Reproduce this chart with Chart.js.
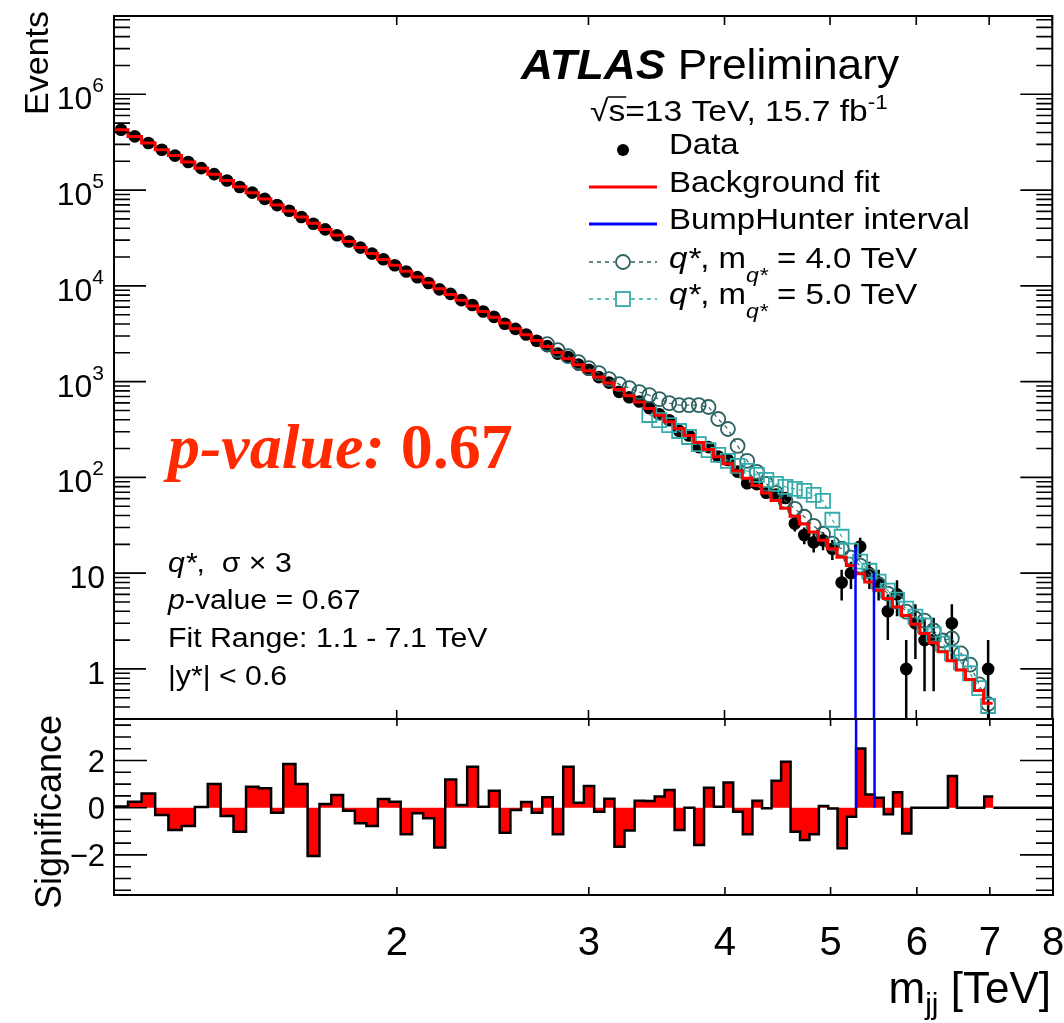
<!DOCTYPE html>
<html>
<head>
<meta charset="utf-8">
<script src="https://cdn.jsdelivr.net/npm/chart.js@4.4.1/dist/chart.umd.min.js"></script>
<style>
  html, body { margin: 0; background: #fff; }
  #wrap { position: relative; width: 1064px; height: 1023px; }
  #wrap canvas { position: absolute; left: 0; top: 0; }
</style>
</head>
<body>
<div id="wrap">
  <canvas id="mainPad" width="1064" height="1023"></canvas>
  <canvas id="sigPad" width="1064" height="1023"></canvas>
</div>
<script>
// dijet mass bin edges [TeV]
const binEdges = [
  1.100, 1.133, 1.166, 1.200, 1.234, 1.269, 1.305, 1.341, 1.378, 1.416, 1.454, 1.493, 1.533, 1.573,
  1.614, 1.656, 1.698, 1.741, 1.785, 1.830, 1.875, 1.921, 1.968, 2.016, 2.065, 2.114, 2.164, 2.215,
  2.267, 2.320, 2.374, 2.429, 2.485, 2.542, 2.600, 2.659, 2.719, 2.780, 2.842, 2.905, 2.969, 3.034,
  3.100, 3.167, 3.235, 3.305, 3.376, 3.448, 3.521, 3.596, 3.672, 3.749, 3.827, 3.907, 3.988, 4.070,
  4.154, 4.239, 4.326, 4.414, 4.504, 4.595, 4.688, 4.782, 4.878, 4.975, 5.074, 5.175, 5.277, 5.381,
  5.487, 5.595, 5.705, 5.817, 5.931, 6.047, 6.165, 6.285, 6.407, 6.531, 6.658, 6.787, 6.918, 7.052
];

// events per bin
const dataCounts = [
  426830, 363650, 310530, 264040, 228850, 196350, 169510, 146780, 125780, 107870,
  94000, 81010, 69730, 60890, 52430, 44560, 38890, 33760, 29060, 25080,
  21700, 18930, 16420, 14100, 12320, 10700, 9188, 8245, 7088, 6312,
  5388, 4746, 4020, 3551, 3108, 2676, 2347, 1959, 1809, 1508,
  1329, 1113, 977, 782, 687, 619, 529, 457, 395, 306,
  274, 207, 207, 165, 152, 115, 87, 85, 69, 66,
  61, 33, 25, 21, 22, 18, 8, 10, 19, 10,
  8, 4, 6, 1, 3, 2, 2, 0, 3, 0,
  0, 0, 1
];

const bkgFit = [
  426800, 363500, 310200, 264200, 229300, 196700, 169500, 146400, 125900, 108200,
  93730, 80780, 69780, 60430, 52200, 44990, 38860, 33660, 29080, 25180,
  21810, 18880, 16390, 14230, 12350, 10750, 9351, 8137, 7079, 6175,
  5385, 4697, 4088, 3557, 3095, 2687, 2326, 2010, 1736, 1500,
  1296, 1119, 964.7, 829.5, 713.3, 611.5, 523.2, 446.7, 380.4, 323.1,
  273.8, 231.5, 195.3, 164.7, 138.9, 116.9, 98.1, 82.1, 68.6, 57.2,
  47.5, 39.4, 32.6, 26.9, 22.0, 18.0, 14.7, 12.0, 9.86, 8.08,
  6.62, 5.43, 4.44, 3.61, 2.92, 2.35, 1.88, 1.51, 1.22, 0.976,
  0.777, 0.597, 0.437
];

// signal + background, null where not drawn
const qstar4 = [
  null, null, null, null, null, null, null, null, null, null,
  null, null, null, null, null, null, null, null, null, null,
  null, null, null, null, null, null, null, null, null, null,
  null, null, null, null, null, null, 2458, 2129, 1843, 1597,
  1382, 1226, 1062, 942, 856, 777, 723, 657, 597, 569,
  569, 569, 543, 407, 320, 213, 149, 114, 85.6, 69.0,
  56.9, 47.0, 38.8, 31.2, 25.8, 20.3, 18.0, 14.5, 12.0, 9.42,
  7.59, 6.11, 5.05, 3.97, 3.36, 3.20, 2.52, 1.98, 2.08, 1.45,
  1.11, 0.69, 0.43
];

const qstar5 = [
  null, null, null, null, null, null, null, null, null, null,
  null, null, null, null, null, null, null, null, null, null,
  null, null, null, null, null, null, null, null, null, null,
  null, null, null, null, null, null, null, null, null, null,
  null, null, null, null, null, null, 448, 397, 352, 305,
  264, 223, 193, 172, 149, 132, 117, 106, 94.2, 85.6,
  79.6, 75.9, 72.3, 65.7, 56.9, 36.1, 24.0, 17.2, 13.2, 10.6,
  8.16, 6.57, 5.30, 4.27, 3.52, 2.84, 2.29, 1.84, 1.45, 1.17,
  0.90, 0.63, 0.41
];

const significance = [
  0.05, 0.25, 0.6, -0.31, -0.95, -0.78, 0.03, 1.0, -0.35, -1.02,
  0.89, 0.82, -0.21, 1.85, 1.0, -2.05, 0.16, 0.54, -0.13, -0.66,
  -0.78, 0.37, 0.25, -1.13, -0.24, -0.45, -1.69, 1.2, 0.11, 1.74,
  0.04, 0.72, -1.06, -0.1, 0.24, -0.21, 0.44, -1.13, 1.74, 0.21,
  0.92, -0.17, 0.38, -1.65, -0.97, 0.3, 0.28, 0.47, 0.75, -0.95,
  0.0, -1.58, 0.85, 0.04, 1.07, -0.17, -1.12, 0.3, -0.02, 1.14,
  1.95, -1.02, -1.37, -1.12, 0.07, -0.03, -1.72, -0.38, 2.51, 0.56,
  0.42, -0.28, 0.65, -1.09, 0, 0, 0, 0, 1.34, 0,
  0, 0, 0.47
];

// BumpHunter interval: edges [TeV] and data height at each edge
const bumpEdges = [5.277, 5.487];
const bumpHeights = [19, 10];

const xRange = [1.1, 8];
const eventsRange = [0.3126, 6.573e6];
const sigRange = [-3.7, 3.76];
const xTickValues = [2, 3, 4, 5, 6, 7, 8];
const xTickLabels = ['2', '3', '4', '5', '6', '7', '8'];
const yDecades = [1, 10, 100, 1e3, 1e4, 1e5, 1e6];
const yDecadeExp = ['', '', '2', '3', '4', '5', '6'];
const sigTickValues = [2, 0, -2];
const sigTickLabels = ['2', '0', '\u22122'];

const RED = '#ff0000';
const BLUE = '#0000ff';
const SIG4 = '#2d6262';
const SIG5 = '#35aaaa';

const sans = (size, style = '') => `${style} ${size}px "Liberation Sans", Arial, Helvetica, sans-serif`.trim();
const serif = (size, style = '') => `${style} ${size}px "Liberation Serif", "Times New Roman", serif`.trim();

const centers = binEdges.slice(0, -1).map((lo, i) => (lo + binEdges[i + 1]) / 2);
const stepPoints = vals => vals.flatMap((v, i) => [{ x: binEdges[i], y: v }, { x: binEdges[i + 1], y: v }]);
const markerPoints = vals => vals.map((v, i) => ({ x: centers[i], y: v })).filter(p => p.y !== null && p.y > 0);

const errorBars = [];
dataCounts.forEach((n, i) => {
  if (n <= 0) return;
  const e = Math.sqrt(n);
  errorBars.push({ x: centers[i], y: n + e }, { x: centers[i], y: Math.max(n - e, 0.01) }, { x: centers[i], y: null });
});

const bumpTop = [];
const bumpBottom = [];
bumpEdges.forEach((m, i) => {
  bumpTop.push({ x: m, y: bumpHeights[i] }, { x: m, y: 0.01 }, { x: m, y: null });
  bumpBottom.push({ x: m, y: sigRange[1] }, { x: m, y: 0 }, { x: m, y: null });
});

// draws a row of text pieces; sx stretches the row horizontally
function richText(ctx, x, y, parts, align = 'left', sx = 1) {
  ctx.save();
  ctx.textBaseline = 'alphabetic';
  ctx.textAlign = 'left';
  const w = parts.map(p => { ctx.font = p.f; return ctx.measureText(p.t).width; });
  const total = w.reduce((a, b) => a + b, 0);
  ctx.translate(x, y);
  ctx.scale(sx, 1);
  let cx = align === 'right' ? -total : 0;
  parts.forEach((p, i) => {
    ctx.font = p.f;
    ctx.fillStyle = p.c || '#000';
    ctx.fillText(p.t, cx, p.dy || 0);
    cx += w[i];
  });
  ctx.restore();
  return total * sx;
}

function strokeSegs(ctx, segs, width, color = '#000', dash = []) {
  ctx.save();
  ctx.lineWidth = width;
  ctx.strokeStyle = color;
  ctx.setLineDash(dash);
  ctx.beginPath();
  segs.forEach(([x1, y1, x2, y2]) => { ctx.moveTo(x1, y1); ctx.lineTo(x2, y2); });
  ctx.stroke();
  ctx.restore();
}

const mainDecor = {
  id: 'mainDecor',
  afterDraw(chart) {
    const { ctx, chartArea: a, scales: { x, y } } = chart;
    const ticks = [];
    for (let e = -1; e <= 6; e++) {
      for (let k = 1; k <= 9; k++) {
        const v = k * Math.pow(10, e);
        if (v < y.min || v > y.max) continue;
        const py = y.getPixelForValue(v);
        const len = k === 1 ? 32 : 16;
        ticks.push([a.left, py, a.left + len, py], [a.right, py, a.right - len, py]);
      }
    }
    xTickValues.forEach(t => {
      const px = x.getPixelForValue(t);
      ticks.push([px, a.top, px, a.top + 9], [px, a.bottom, px, a.bottom - 9]);
    });
    strokeSegs(ctx, ticks, 1.6);
    ctx.save();
    ctx.lineWidth = 2;
    ctx.strokeStyle = '#000';
    ctx.strokeRect(a.left, a.top, a.right - a.left, a.bottom - a.top);
    ctx.restore();

    // y tick labels
    yDecades.forEach((v, i) => {
      const py = y.getPixelForValue(v);
      if (yDecadeExp[i]) {
        richText(ctx, 104, py + 15, [
          { t: '10', f: sans(32) },
          { t: yDecadeExp[i], f: sans(21), dy: -17 }
        ], 'right');
      } else {
        richText(ctx, 105, py + 15, [{ t: String(v), f: sans(32) }], 'right');
      }
    });

    // y title
    ctx.save();
    ctx.translate(48, 11);
    ctx.rotate(-Math.PI / 2);
    ctx.font = sans(34);
    ctx.textAlign = 'right';
    ctx.fillStyle = '#000';
    ctx.fillText('Events', 0, 0);
    ctx.restore();

    // ATLAS label
    richText(ctx, 521, 79, [
      { t: 'ATLAS', f: sans(43, 'italic bold') },
      { t: ' Preliminary', f: sans(43) }
    ], 'left', 1.03);
    ctx.save();
    ctx.font = sans(30);
    const wRoot = ctx.measureText('\u221A').width * 1.12;
    const wS = ctx.measureText('s').width * 1.12;
    ctx.restore();
    richText(ctx, 590, 121, [
      { t: '\u221As=13 TeV, 15.7 fb', f: sans(30) },
      { t: '-1', f: sans(20), dy: -12 }
    ], 'left', 1.12);
    strokeSegs(ctx, [[590 + wRoot - 1, 97, 590 + wRoot + wS + 1, 97]], 1.5);

    // legend
    ctx.save();
    ctx.fillStyle = '#000';
    ctx.beginPath();
    ctx.arc(623, 150, 6, 0, 2 * Math.PI);
    ctx.fill();
    ctx.restore();
    strokeSegs(ctx, [[589, 187, 657, 187]], 3, RED);
    strokeSegs(ctx, [[589, 224, 657, 224]], 3, BLUE);
    strokeSegs(ctx, [[589, 262, 615, 262], [631, 262, 657, 262]], 1.3, SIG4, [4, 4]);
    strokeSegs(ctx, [[589, 299, 615, 299], [631, 299, 657, 299]], 1.3, SIG5, [4, 4]);
    ctx.save();
    ctx.lineWidth = 1.8;
    ctx.strokeStyle = SIG4;
    ctx.beginPath();
    ctx.arc(623, 262, 7, 0, 2 * Math.PI);
    ctx.stroke();
    ctx.strokeStyle = SIG5;
    ctx.strokeRect(616, 292, 14, 14);
    ctx.restore();
    const lsx = 1.1;
    richText(ctx, 669, 154, [{ t: 'Data', f: sans(30) }], 'left', lsx);
    richText(ctx, 669, 192, [{ t: 'Background fit', f: sans(30) }], 'left', lsx);
    richText(ctx, 669, 229, [{ t: 'BumpHunter interval', f: sans(30) }], 'left', lsx);
    [['4.0', 268], ['5.0', 304]].forEach(([m, by]) => {
      richText(ctx, 669, by, [
        { t: 'q*', f: sans(30, 'italic') },
        { t: ', m', f: sans(30) },
        { t: 'q*', f: sans(21, 'italic'), dy: 14 },
        { t: ' = ' + m + ' TeV', f: sans(30) }
      ], 'left', lsx);
    });

    // big p-value
    richText(ctx, 168, 468, [
      { t: 'p-value:', f: serif(64, 'italic bold'), c: '#ff2a00' },
      { t: ' 0.67', f: serif(64, 'bold'), c: '#ff2a00' }
    ]);

    // analysis info
    const isx = 1.12;
    richText(ctx, 168, 572, [
      { t: 'q*', f: sans(27, 'italic') },
      { t: ',  \u03C3 \u00D7 3', f: sans(27) }
    ], 'left', isx);
    richText(ctx, 168, 609, [
      { t: 'p', f: sans(27, 'italic') },
      { t: '-value = 0.67', f: sans(27) }
    ], 'left', isx);
    richText(ctx, 168, 647, [{ t: 'Fit Range: 1.1 - 7.1 TeV', f: sans(27) }], 'left', isx);
    richText(ctx, 168, 685, [{ t: '|y*| < 0.6', f: sans(27) }], 'left', isx);
  }
};

const sigDecor = {
  id: 'sigDecor',
  afterDraw(chart) {
    const { ctx, chartArea: a, scales: { x, y } } = chart;
    const ticks = [];
    for (let v = -3.5; v <= 3.5; v += 0.5) {
      const py = y.getPixelForValue(v);
      const len = Math.abs(v % 2) < 1e-9 ? 33 : 17;
      ticks.push([a.left, py, a.left + len, py], [a.right, py, a.right - len, py]);
    }
    xTickValues.forEach(t => {
      const px = x.getPixelForValue(t);
      ticks.push([px, a.top, px, a.top + 7], [px, a.bottom, px, a.bottom - 8]);
    });
    strokeSegs(ctx, ticks, 1.6);
    ctx.save();
    ctx.lineWidth = 2;
    ctx.strokeStyle = '#000';
    ctx.strokeRect(a.left, a.top, a.right - a.left, a.bottom - a.top);
    ctx.restore();

    sigTickValues.forEach((v, i) => {
      const py = y.getPixelForValue(v);
      richText(ctx, 105, py + 11, [{ t: sigTickLabels[i], f: sans(31) }], 'right');
    });
    xTickValues.forEach((v, i) => {
      const px = x.getPixelForValue(v);
      ctx.save();
      ctx.font = sans(40);
      ctx.textAlign = 'center';
      ctx.fillStyle = '#000';
      ctx.fillText(xTickLabels[i], px, 955);
      ctx.restore();
    });
    richText(ctx, 1051, 1003, [
      { t: 'm', f: sans(44) },
      { t: 'jj', f: sans(30), dy: 11 },
      { t: ' [TeV]', f: sans(44) }
    ], 'right');

    ctx.save();
    ctx.translate(61, 715);
    ctx.rotate(-Math.PI / 2);
    ctx.font = sans(36);
    ctx.textAlign = 'right';
    ctx.fillStyle = '#000';
    ctx.fillText('Significance', 0, 0);
    ctx.restore();
  }
};

const baseOptions = {
  responsive: false,
  animation: false,
  devicePixelRatio: 1,
  events: [],
  plugins: { legend: { display: false }, tooltip: { enabled: false } }
};

new Chart(document.getElementById('mainPad'), {
  type: 'line',
  data: {
    datasets: [
      { data: bumpTop, borderColor: BLUE, borderWidth: 2.5, pointRadius: 0, order: 0 },
      { data: stepPoints(bkgFit), borderColor: RED, borderWidth: 3, pointRadius: 0, order: 1 },
      { data: markerPoints(qstar5), borderColor: SIG5, borderWidth: 1.2, borderDash: [4, 4],
        pointStyle: 'rect', pointRadius: 9.9, pointBorderWidth: 1.8,
        pointBackgroundColor: 'rgba(0,0,0,0)', pointBorderColor: SIG5, order: 2 },
      { data: markerPoints(qstar4), borderColor: SIG4, borderWidth: 1.2, borderDash: [4, 4],
        pointStyle: 'circle', pointRadius: 7, pointBorderWidth: 1.8,
        pointBackgroundColor: 'rgba(0,0,0,0)', pointBorderColor: SIG4, order: 3 },
      { data: errorBars, borderColor: '#000', borderWidth: 2.5, pointRadius: 0, order: 4 },
      { data: markerPoints(dataCounts), showLine: false, pointRadius: 6.3, pointBorderWidth: 0,
        pointBackgroundColor: '#000', order: 5 }
    ]
  },
  options: {
    ...baseOptions,
    layout: { padding: { left: 114, right: 11, top: 16, bottom: 304 } },
    scales: {
      x: { type: 'logarithmic', min: xRange[0], max: xRange[1], display: false },
      y: { type: 'logarithmic', min: eventsRange[0], max: eventsRange[1], display: false }
    }
  },
  plugins: [mainDecor]
});

new Chart(document.getElementById('sigPad'), {
  type: 'line',
  data: {
    datasets: [
      { data: bumpBottom, borderColor: BLUE, borderWidth: 2.5, pointRadius: 0, order: 0 },
      { data: stepPoints(significance), borderColor: '#000', borderWidth: 2.5, pointRadius: 0,
        fill: 'origin', backgroundColor: RED, order: 1 },
      { data: [{ x: binEdges[binEdges.length - 1], y: 0 }, { x: xRange[1], y: 0 }],
        borderColor: '#000', borderWidth: 2.5, pointRadius: 0, order: 2 }
    ]
  },
  options: {
    ...baseOptions,
    layout: { padding: { left: 114, right: 11, top: 719, bottom: 128 } },
    scales: {
      x: { type: 'logarithmic', min: xRange[0], max: xRange[1], display: false },
      y: { type: 'linear', min: sigRange[0], max: sigRange[1], display: false }
    }
  },
  plugins: [sigDecor]
});
</script>
</body>
</html>
